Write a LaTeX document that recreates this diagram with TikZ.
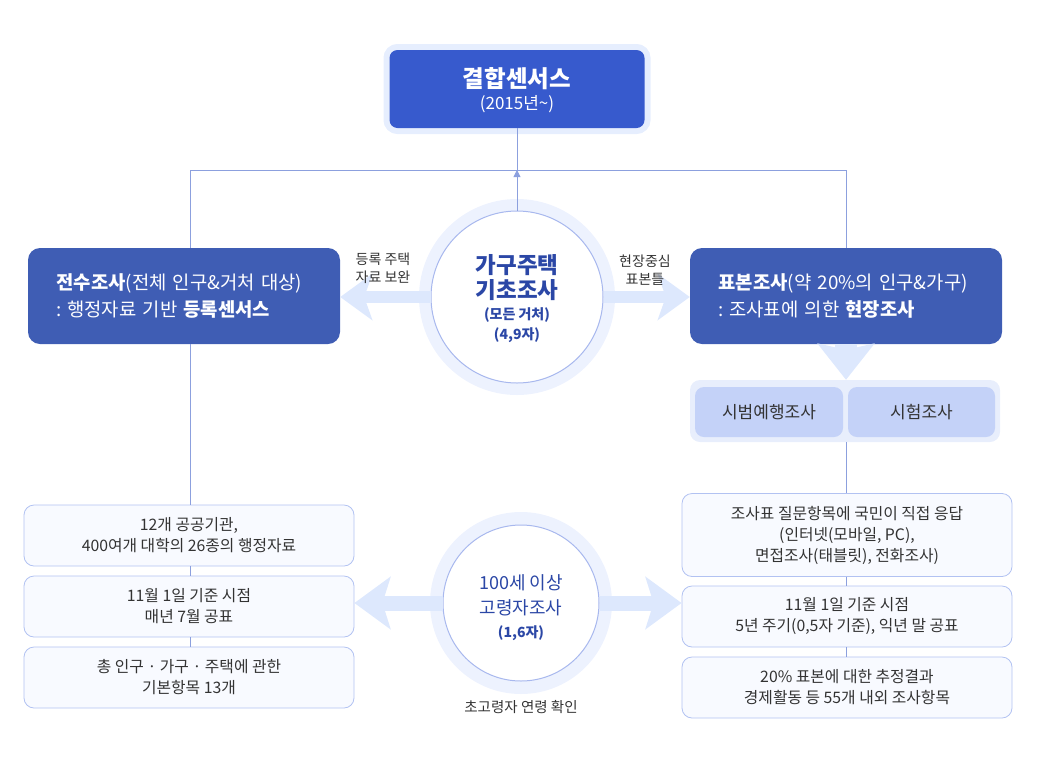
\documentclass[tikz,border=0pt]{standalone}
\usepackage{fontspec}
\setmainfont{Noto Sans CJK KR}
\usetikzlibrary{arrows.meta}
\definecolor{topblue}{RGB}{55,90,205}
\definecolor{boxblue}{RGB}{63,93,180}
\definecolor{halo}{RGB}{230,238,254}
\definecolor{hubhalo}{RGB}{237,242,254}
\definecolor{fatc}{RGB}{221,232,253}
\definecolor{linec}{RGB}{140,160,222}
\definecolor{circtext}{RGB}{43,71,166}
\definecolor{ringc}{RGB}{168,184,238}
\definecolor{listfill}{RGB}{248,250,255}
\definecolor{listdraw}{RGB}{178,194,242}
\definecolor{pillfill}{RGB}{196,210,248}
\definecolor{pillhalo}{RGB}{232,238,252}
\definecolor{textc}{RGB}{51,51,51}
\newcommand\fsz[2]{\fontsize{#1}{#2}\selectfont}
\begin{document}
\begin{tikzpicture}[x=1pt,y=-1pt,
  conn/.style={draw=linec, line width=0.9pt},
  topbox/.style={fill=topblue, rounded corners=8pt, minimum width=255pt, minimum height=78pt, preaction={draw=halo, line width=12pt}},
  bluebox/.style={fill=boxblue, rounded corners=12pt, text=white, text width=255pt, inner xsep=28.5pt, minimum height=96pt, align=left, font=\fsz{18.8}{27}},
  hub/.style={circle, fill=white, draw=ringc, line width=1pt, inner sep=0pt},
  hubtext/.style={text=circtext, align=center, inner sep=0pt},
  listbox/.style={fill=listfill, draw=listdraw, line width=0.8pt, rounded corners=10pt, minimum width=330pt, align=center, text=textc, font=\fsz{15.8}{21}},
  pill/.style={fill=pillfill, rounded corners=9pt, minimum height=50pt, text=textc, font=\fsz{17}{20}},
  lbl/.style={text=textc, align=center, font=\fsz{14}{18}},
  fat/.style={draw=fatc, line width=#1}
]
\useasboundingbox (0,0) rectangle (1045,756);

% top box
\node[topbox] (top) at (517,89) {};
\node[text=white, font=\fsz{23.5}{25}\bfseries, inner sep=0pt] (toptitle) at (517,79) {결합센서스};
\node[text=white, font=\fsz{17}{20}, inner sep=0pt] (topsub) at (517,104) {(2015년\textasciitilde)};

% main boxes
\node[bluebox] (full) at (184,296) {{\bfseries 전수조사}(전체 인구\&거처 대상)\\:\hspace{0.3em}행정자료 기반 {\bfseries 등록센서스}};
\node[bluebox] (samp) at (846,296) {{\bfseries 표본조사}(약 20\%의 인구\&가구)\\:\hspace{0.3em}조사표에 의한 {\bfseries 현장조사}};

% hub circles
\node[hub, minimum size=172pt, preaction={draw=hubhalo, line width=24pt}] (g) at (517,297) {};
\node[hub, minimum size=156pt, preaction={draw=hubhalo, line width=26pt}] (g2) at (521,603) {};

% connector lines
\coordinate (jl) at (190,170);
\coordinate (jc) at (517,170);
\coordinate (jr) at (846,170);
\draw[conn] (top.south) -- (jc);
\draw[conn] (jl) -- (jr);
\draw[conn] (jl) -- (jl |- full.north);
\draw[conn] (jr) -- (jr |- samp.north);
\draw[conn, -{Triangle[length=7pt,width=7pt]}] (g.north) -- (jc);

% fat arrows
\draw[fat=12pt, -{Stealth[length=32pt,width=46pt,inset=8pt]}] (g.west) -- (g.west -| full.east);
\draw[fat=12pt, -{Stealth[length=32pt,width=46pt,inset=8pt]}] (g.east) -- (g.east -| samp.west);

% hub texts
\node[hubtext, font=\fsz{22.5}{25}\bfseries] (gt) at (517,277.5) {가구주택\\기초조사};
\node[hubtext, font=\fsz{14}{20}\bfseries] (gs) at (517,325) {(모든 거처)\\(4,9자)};
\node[hubtext, font=\fsz{18}{25}] (g2t) at (521,595) {100세 이상\\고령자조사};
\node[hubtext, font=\fsz{14}{18}\bfseries] (g2s) at (521,633) {(1,6자)};

% labels
\node[lbl] (lab1) at (383,268) {등록 주택\\자료 보완};
\node[lbl] (lab2) at (645,270) {현장중심\\표본틀};
\node[lbl, font=\fsz{14.5}{18}] (lab3) at (521,707) {초고령자 연령 확인};

% pilot group
\node[fill=pillhalo, rounded corners=10pt, minimum width=310pt, minimum height=62pt] (grp) at (845,411) {};
\draw[fat=22pt, -{Stealth[length=36pt,width=56pt,inset=6pt]}] (samp.south) -- (samp.south |- grp.north);
\node[pill, minimum width=148pt] (p1) at (769,412) {시범예행조사};
\node[pill, minimum width=147pt] (p2) at (921.5,412) {시험조사};

% left list
\node[listbox, minimum height=61pt] (lb1) at (189,535.5) {12개 공공기관,\\400여개 대학의 26종의 행정자료};
\node[listbox, minimum height=61pt] (lb2) at (189,606.5) {11월 1일 기준 시점\\매년 7월 공표};
\node[listbox, minimum height=61pt] (lb3) at (189,677.5) {총 인구 · 가구 · 주택에 관한\\기본항목 13개};
\draw[conn] (full.south -| jl) -- (lb1.north -| jl);
\draw[conn] (lb1.south -| jl) -- (lb2.north -| jl);
\draw[conn] (lb2.south -| jl) -- (lb3.north -| jl);

% right list
\node[listbox, minimum height=83pt] (rb1) at (847,535) {조사표 질문항목에 국민이 직접 응답\\(인터넷(모바일, PC),\\면접조사(태블릿), 전화조사)};
\node[listbox, minimum height=61pt] (rb2) at (847,616.5) {11월 1일 기준 시점\\5년 주기(0,5자 기준), 익년 말 공표};
\node[listbox, minimum height=61pt] (rb3) at (847,687.5) {20\% 표본에 대한 추정결과\\경제활동 등 55개 내외 조사항목};
\draw[conn] (grp.south -| jr) -- (rb1.north -| jr);
\draw[conn] (rb1.south -| jr) -- (rb2.north -| jr);
\draw[conn] (rb2.south -| jr) -- (rb3.north -| jr);

% bottom fat arrows
\draw[fat=15pt, -{Stealth[length=36pt,width=52pt,inset=8pt]}] (g2.west) -- (g2.west -| lb2.east);
\draw[fat=15pt, -{Stealth[length=36pt,width=52pt,inset=8pt]}] (g2.east) -- (g2.east -| rb2.west);
\end{tikzpicture}
\end{document}
